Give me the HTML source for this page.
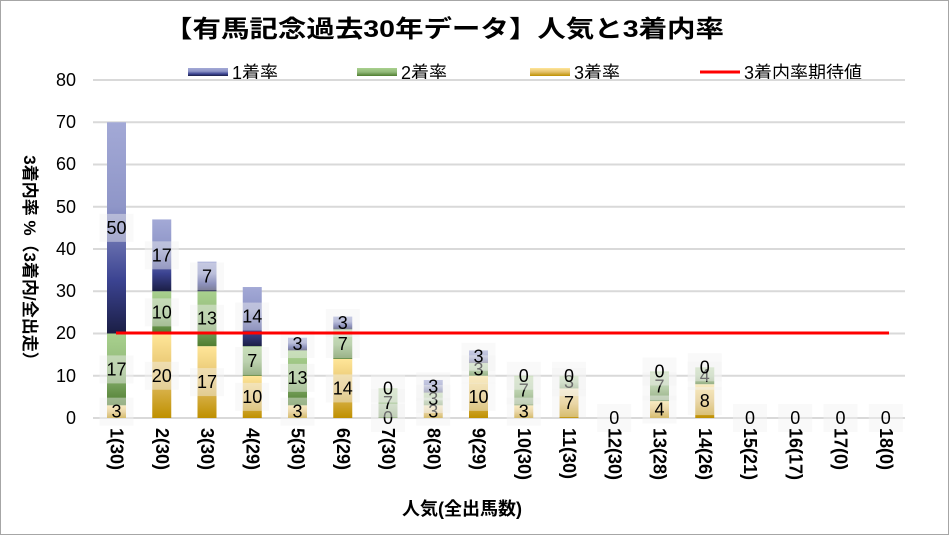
<!DOCTYPE html>
<html><head><meta charset="utf-8"><style>
body{margin:0;background:#fff}
svg{display:block;font-family:"Liberation Sans","Noto Sans CJK JP",sans-serif}
</style></head><body>
<svg width="949" height="535" viewBox="0 0 949 535">
<defs>
<linearGradient id="b" x1="0" y1="0" x2="0" y2="1"><stop offset="0" stop-color="#a3a9d6"/><stop offset="0.4" stop-color="#8f96c8"/><stop offset="0.75" stop-color="#3b4391"/><stop offset="1" stop-color="#1b1e45"/></linearGradient>
<linearGradient id="g" x1="0" y1="0" x2="0" y2="1"><stop offset="0" stop-color="#a9d18e"/><stop offset="0.5" stop-color="#92b97a"/><stop offset="1" stop-color="#4f7d30"/></linearGradient>
<linearGradient id="y" x1="0" y1="0" x2="0" y2="1"><stop offset="0" stop-color="#ffe699"/><stop offset="0.5" stop-color="#e3c06a"/><stop offset="1" stop-color="#bf9000"/></linearGradient>
</defs>
<rect x="0.5" y="0.5" width="948" height="534" fill="#fff" stroke="#a6a6a6"/>
<text x="444" y="37" font-size="24" font-weight="bold" text-anchor="middle" textLength="560" lengthAdjust="spacingAndGlyphs">【有馬記念過去30年データ】人気と3着内率</text>
<g font-size="18">
<rect x="188" y="68" width="40" height="8" fill="url(#b)"/><text x="232" y="79">1着率</text>
<rect x="357" y="68" width="40" height="8" fill="url(#g)"/><text x="401" y="79">2着率</text>
<rect x="530" y="68" width="40" height="8" fill="url(#y)"/><text x="574" y="79">3着率</text>
<line x1="700" y1="72" x2="740" y2="72" stroke="#f00" stroke-width="3"/><text x="744" y="79">3着内率期待値</text>
</g>
<g stroke="#d9d9d9" stroke-width="2">
<line x1="93" x2="905" y1="80" y2="80"/><line x1="93" x2="905" y1="122.25" y2="122.25"/><line x1="93" x2="905" y1="164.5" y2="164.5"/><line x1="93" x2="905" y1="206.75" y2="206.75"/><line x1="93" x2="905" y1="249" y2="249"/><line x1="93" x2="905" y1="291.25" y2="291.25"/><line x1="93" x2="905" y1="333.5" y2="333.5"/><line x1="93" x2="905" y1="375.75" y2="375.75"/><line x1="93" x2="905" y1="418" y2="418"/>
</g>
<g font-size="18" text-anchor="end">
<text x="76" y="86">80</text><text x="76" y="128">70</text><text x="76" y="170">60</text><text x="76" y="213">50</text><text x="76" y="255">40</text><text x="76" y="297">30</text><text x="76" y="339">20</text><text x="76" y="382">10</text><text x="76" y="424">0</text>
</g>
<text transform="translate(24,262) rotate(90)" font-size="17" font-weight="bold" text-anchor="middle">3着内率 %（3着内/全出走）</text>
<text x="462" y="515" font-size="18" font-weight="bold" text-anchor="middle">人気(全出馬数)</text>
<g id="bars"></g>
<g id="labels" font-size="18" text-anchor="middle"></g>
<g id="xl" font-size="18" font-weight="bold"></g>
<line x1="116" y1="333" x2="889" y2="333" stroke="#f00" stroke-width="3"/>
<script>
(function(){
var d=[[3,17,50],[20,10,17],[17,13,7],[10,7,14],[3,13,3],[14,7,3],[0,7,0],[3,3,3],[10,3,3],[3,7,0],[7,3,0],[0,0,0],[4,7,0],[8,4,0],[0,0,0],[0,0,0],[0,0,0],[0,0,0]];
var n=["1(30)","2(30)","3(30)","4(29)","5(30)","6(29)","7(30)","8(30)","9(29)","10(30)","11(30)","12(30)","13(28)","14(26)","15(21)","16(17)","17(0)","18(0)"];
var ns="http://www.w3.org/2000/svg",B=document.getElementById("bars"),L=document.getElementById("labels"),X=document.getElementById("xl");
var f=["url(#y)","url(#g)","url(#b)"],k=4.225;
function el(p,t,a,tx){var e=document.createElementNS(ns,t);for(var q in a)e.setAttribute(q,a[q]);if(tx!=null)e.textContent=String(tx);p.appendChild(e);}
for(var i=0;i<18;i++){var cx=116.5+i*45.25,base=418;
for(var j=0;j<3;j++){var h=d[i][j]*k;var tp=base-h;
if(h>0)el(B,"rect",{x:cx-9.5,y:tp,width:19,height:h,fill:f[j]});
var cy=base-h/2;
if(!(i==11&&j>0)&&!(i>=14&&j>0)){el(L,"rect",{x:cx-17,y:cy-14,width:34,height:28,fill:"rgba(242,242,242,0.45)"});el(L,"text",{x:cx,y:cy+6},d[i][j]);}
base=tp;}
el(X,"text",{transform:"translate("+(cx-6)+",428) rotate(90)"},n[i]);}
})();
</script>
</svg>
</body></html>
